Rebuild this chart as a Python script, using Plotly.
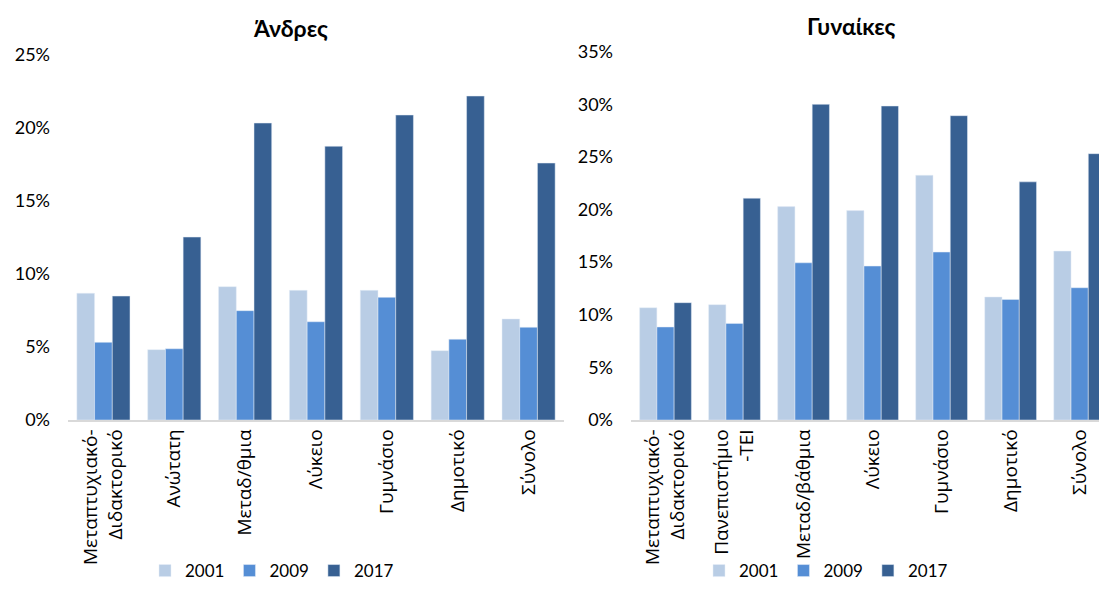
"""Ποσοστά ανά εκπαιδευτικό επίπεδο: Άνδρες / Γυναίκες, 2001-2009-2017."""
import plotly.graph_objects as go

YEARS = ["2001", "2009", "2017"]
COLORS = ["#B9CDE5", "#558ED5", "#376092"]

men_categories = [
    "Μεταπτυχιακό-<br>Διδακτορικό", "Ανώτατη", "Μεταδ/θμια", "Λύκειο",
    "Γυμνάσιο", "Δημοτικό", "Σύνολο",
]
men_2001 = [0.0868, 0.0482, 0.0913, 0.0888, 0.0888, 0.0475, 0.0692]
men_2009 = [0.0532, 0.0488, 0.0749, 0.0673, 0.0840, 0.0553, 0.0635]
men_2017 = [0.0849, 0.1253, 0.2034, 0.1875, 0.2089, 0.2219, 0.1760]

women_categories = [
    "Μεταπτυχιακό-<br>Διδακτορικό", "Πανεπιστήμιο<br>-ΤΕΙ", "Μεταδ/βάθμια",
    "Λύκειο", "Γυμνάσιο", "Δημοτικό", "Σύνολο",
]
women_2001 = [0.1067, 0.1096, 0.2028, 0.1990, 0.2326, 0.1169, 0.1605]
women_2009 = [0.0884, 0.0918, 0.1494, 0.1463, 0.1596, 0.1146, 0.1257]
women_2017 = [0.1115, 0.2108, 0.3000, 0.2984, 0.2892, 0.2263, 0.2531]

FONT = "Lato, 'Open Sans', sans-serif"
CAT_FONT = "'Open Sans', 'Noto Sans', sans-serif"
# the page adds ~10px below the plot div, so the figure is a bit shorter
W, H = 1099, 589

fig = go.Figure()

for year, color, vals in zip(YEARS, COLORS, [men_2001, men_2009, men_2017]):
    fig.add_trace(go.Bar(
        x=men_categories, y=vals, name=year, marker_color=color,
        xaxis="x", yaxis="y", legend="legend",
    ))
for year, color, vals in zip(YEARS, COLORS, [women_2001, women_2009, women_2017]):
    fig.add_trace(go.Bar(
        x=women_categories, y=vals, name=year, marker_color=color,
        xaxis="x2", yaxis="y2", legend="legend2",
    ))

y_bottom = 1 - 420 / H
axis_common = dict(showgrid=False, zeroline=False, ticks="", automargin=False)
xaxis_common = dict(
    **axis_common, tickangle=-90, showline=True, linecolor="#D9D9D9",
    linewidth=1.5, type="category",
    tickfont=dict(size=19, color="#000000", family=CAT_FONT),
)
yaxis_common = dict(
    **axis_common, dtick=0.05, tickformat=".0%", ticklabelstandoff=17,
    tickfont=dict(size=18, color="#000000", family=FONT),
)
legend_common = dict(
    orientation="h", y=0, yanchor="bottom", xanchor="center",
    font=dict(size=17), itemwidth=30, traceorder="normal",
    bgcolor="rgba(0,0,0,0)",
)

fig.update_layout(
    width=W, height=H, margin=dict(l=0, r=0, t=0, b=0),
    paper_bgcolor="white", plot_bgcolor="white",
    font=dict(family=FONT, color="#000000"),
    barmode="group", bargap=0.25, bargroupgap=0,
    xaxis=dict(**xaxis_common, domain=[68 / W, 564 / W], anchor="y",
               range=[-0.5, 6.5]),
    yaxis=dict(**yaxis_common, domain=[y_bottom, 1 - 55 / H], anchor="x",
               range=[0, 0.25]),
    xaxis2=dict(**xaxis_common, domain=[631 / W, 1.0], anchor="y2",
                range=[-0.5, 6.28]),
    yaxis2=dict(**yaxis_common, domain=[y_bottom, 1 - 51.7 / H], anchor="x2",
                range=[0, 0.35]),
    legend=dict(**legend_common, x=272 / W),
    legend2=dict(**legend_common, x=826 / W),
    annotations=[
        dict(text="<b>Άνδρες</b>", x=290 / W, y=1 - 28 / H, xref="paper",
             yref="paper", xanchor="center", yanchor="middle",
             showarrow=False, font=dict(size=23)),
        dict(text="<b>Γυναίκες</b>", x=851 / W, y=1 - 26 / H, xref="paper",
             yref="paper", xanchor="center", yanchor="middle",
             showarrow=False, font=dict(size=23)),
    ],
)

fig.write_html(
    "out.html",
    config={"displayModeBar": False},
    post_script="document.body.style.margin='0';",
)
